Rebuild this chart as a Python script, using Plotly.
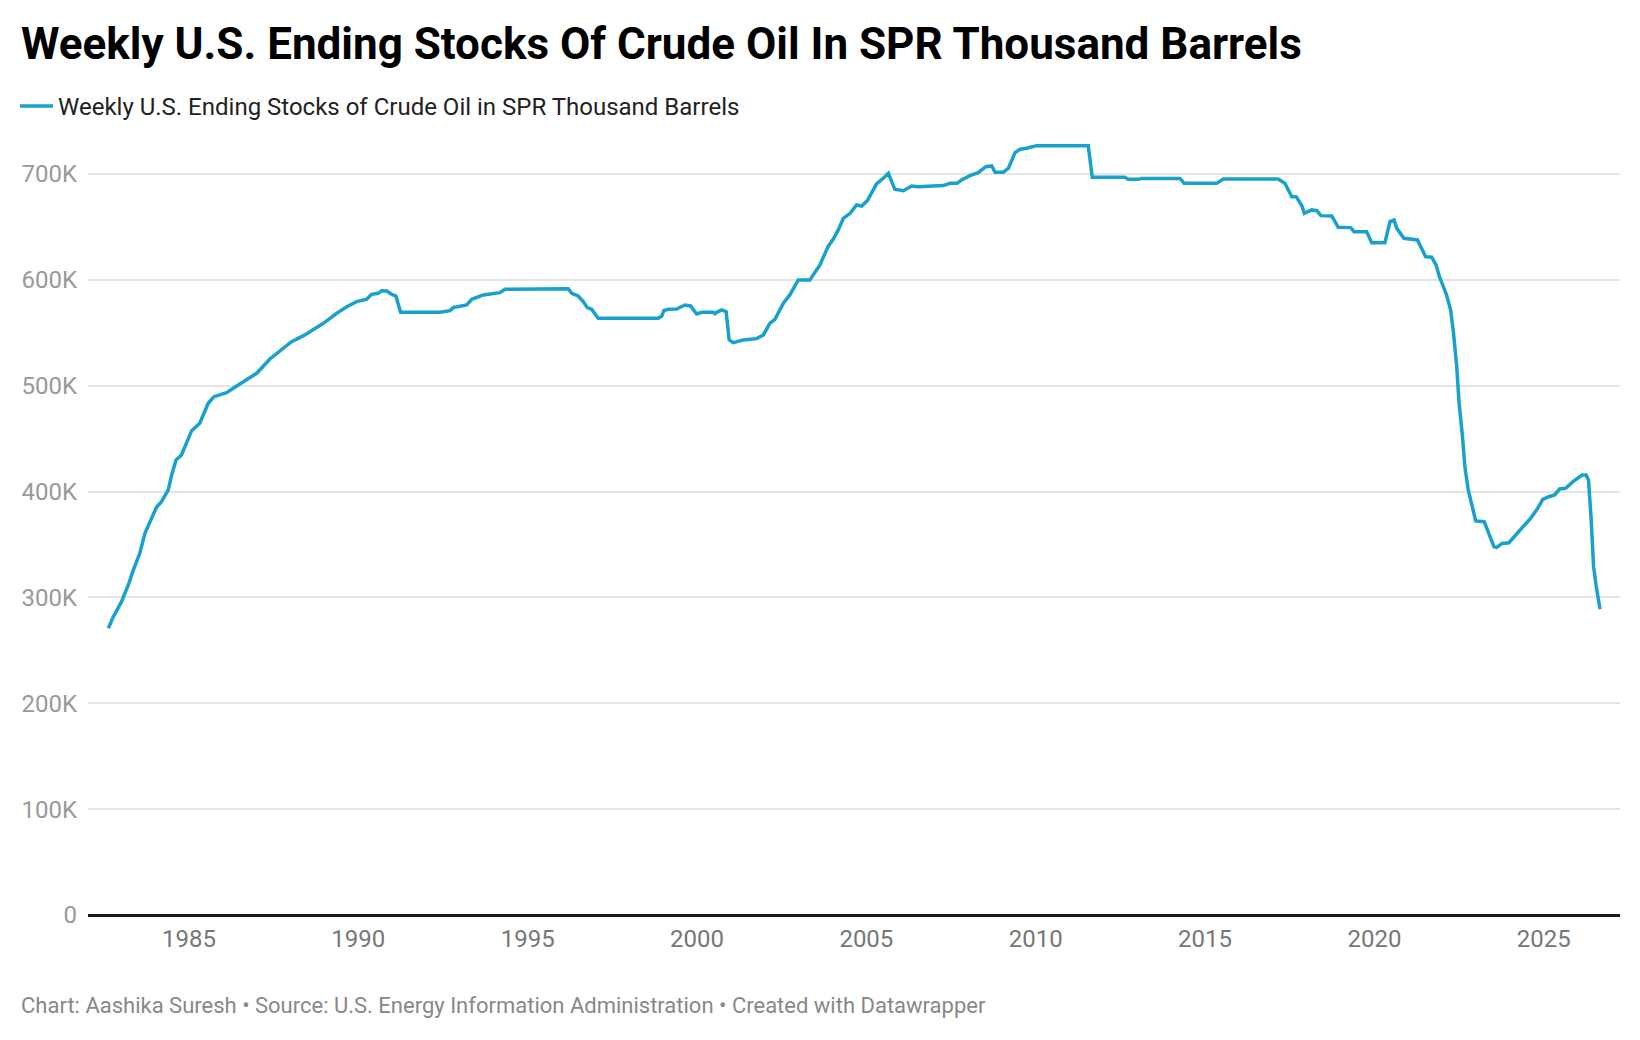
import plotly.graph_objects as go

# Decimal year of each reading
years = [
    1982.62, 1982.77, 1983.01, 1983.21, 1983.36, 1983.55, 1983.70, 1983.83, 1984.05, 1984.19,
    1984.39, 1984.49, 1984.62, 1984.78, 1984.93, 1985.08, 1985.32, 1985.57, 1985.74, 1986.11,
    1986.41, 1986.70, 1987.00, 1987.39, 1987.69, 1988.03, 1988.37, 1988.67, 1988.97, 1989.36,
    1989.66, 1989.95, 1990.25, 1990.39, 1990.59, 1990.69, 1990.84, 1990.98, 1991.11, 1991.25,
    1992.41, 1992.71, 1992.80, 1993.20, 1993.35, 1993.69, 1994.18, 1994.33, 1996.20, 1996.30,
    1996.49, 1996.64, 1996.76, 1996.89, 1997.08, 1998.86, 1998.96, 1999.02, 1999.15, 1999.40,
    1999.64, 1999.81, 1999.99, 2000.14, 2000.48, 2000.53, 2000.58, 2000.73, 2000.86, 2000.95,
    2001.07, 2001.37, 2001.76, 2001.96, 2002.15, 2002.30, 2002.55, 2002.74, 2002.89, 2002.99,
    2003.33, 2003.48, 2003.63, 2003.78, 2003.88, 2004.02, 2004.17, 2004.32, 2004.52, 2004.71,
    2004.86, 2005.03, 2005.16, 2005.30, 2005.50, 2005.65, 2005.84, 2006.09, 2006.34, 2006.53,
    2007.27, 2007.47, 2007.68, 2007.81, 2008.06, 2008.30, 2008.53, 2008.70, 2008.80, 2009.04,
    2009.19, 2009.39, 2009.54, 2009.73, 2010.03, 2011.55, 2011.67, 2012.63, 2012.73, 2013.03,
    2013.13, 2014.26, 2014.38, 2015.34, 2015.54, 2017.16, 2017.36, 2017.51, 2017.56, 2017.69,
    2017.86, 2017.93, 2018.15, 2018.30, 2018.42, 2018.74, 2018.93, 2019.30, 2019.40, 2019.77,
    2019.92, 2020.31, 2020.46, 2020.58, 2020.66, 2020.87, 2021.27, 2021.39, 2021.51, 2021.69,
    2021.82, 2021.92, 2022.03, 2022.13, 2022.25, 2022.33, 2022.43, 2022.50, 2022.60, 2022.67,
    2022.77, 2022.87, 2022.99, 2023.24, 2023.36, 2023.53, 2023.61, 2023.77, 2023.97, 2024.21,
    2024.61, 2024.80, 2024.97, 2025.15, 2025.32, 2025.47, 2025.64, 2025.89, 2026.13, 2026.25,
    2026.32, 2026.40, 2026.47, 2026.55, 2026.66,
]

# Ending stocks, thousand barrels
stocks = [
    270800, 281800, 296000, 311700, 326000, 341700, 360600, 370000, 385700, 390400,
    401500, 415600, 429800, 434500, 447100, 457500, 464500, 483400, 489600, 493400,
    499700, 506000, 511700, 525200, 533100, 541600, 547000, 552600, 558900, 568300,
    574600, 579400, 581600, 586300, 587200, 589700, 589400, 586300, 584700, 569300,
    569300, 570900, 573700, 576200, 581600, 585700, 587900, 591000, 591500, 587300,
    584700, 579400, 573700, 572200, 563700, 563700, 565800, 570900, 572200, 572400,
    576200, 575300, 567700, 569300, 569300, 568000, 569300, 571500, 569900, 543200,
    540600, 543200, 544400, 547900, 558900, 562600, 577800, 585700, 595100, 599900,
    599900, 607700, 614000, 625000, 632000, 638300, 647100, 658100, 662800, 670700,
    669700, 674800, 681700, 690500, 695900, 700600, 685500, 684200, 688600, 688000,
    689000, 691100, 691100, 694300, 698400, 701200, 706800, 707500, 701500, 701500,
    705300, 720100, 723300, 724200, 726700, 726700, 696800, 696800, 694900, 694900,
    695800, 695800, 691100, 691100, 695200, 695200, 691100, 682000, 678500, 678500,
    669700, 662800, 666000, 665300, 660600, 660300, 649600, 649300, 645500, 645500,
    635100, 635100, 655000, 656500, 648600, 639200, 637600, 629700, 621900, 621300,
    614000, 603000, 593500, 585700, 571500, 551000, 518000, 483400, 451800, 423500,
    401500, 388900, 372200, 371500, 362100, 347900, 347300, 351000, 351600, 360500,
    374700, 383200, 392600, 395100, 396800, 402400, 403100, 410000, 415600, 415600,
    410900, 373100, 329000, 310100, 288800,
]

x_ticks = [1985, 1990, 1995, 2000, 2005, 2010, 2015, 2020, 2025]
x_labels = ["1985", "1990", "1995", "2000", "2005", "2010", "2015", "2020", "2025"]
y_ticks = [0, 100000, 200000, 300000, 400000, 500000, 600000, 700000]
y_labels = ["0", "100K", "200K", "300K", "400K", "500K", "600K", "700K"]

series_name = "Weekly U.S. Ending Stocks of Crude Oil in SPR Thousand Barrels"
title_text = "Weekly U.S. Ending Stocks Of Crude Oil In SPR Thousand Barrels"
footer_text = "Chart: Aashika Suresh • Source: U.S. Energy Information Administration • Created with Datawrapper"

# The page body has an 8px margin, so the figure is drawn 8px smaller
W, H = 1632, 1032
L, R, T, B = 80, 20, 113, 125
plot_h = H - T - B

fig = go.Figure()
fig.add_trace(go.Scatter(
    x=years, y=stocks, mode="lines", name=series_name,
    line=dict(color="#18a1cd", width=3.5, shape="linear"),
    hoverinfo="skip",
))

fig.update_layout(
    width=W, height=H,
    margin=dict(l=L, r=R, t=T, b=B, autoexpand=False),
    paper_bgcolor="white", plot_bgcolor="white",
    font=dict(family="Roboto", color="#333333"),
    title=dict(
        text="<b>" + title_text + "</b>",
        font=dict(family="Roboto", size=44, color="#000000"),
        xref="container", x=13 / W, xanchor="left",
        yref="container", y=1 - 35.7 / H, yanchor="middle",
    ),
    showlegend=True,
    legend=dict(
        orientation="h",
        xref="container", x=7 / W, xanchor="left",
        yref="container", y=1 - 98.4 / H, yanchor="middle",
        font=dict(family="Roboto", size=24, color="#222222"),
        bgcolor="rgba(0,0,0,0)", borderwidth=0,
        itemwidth=33,
    ),
    xaxis=dict(
        range=[1982.02, 2027.25],
        tickmode="array", tickvals=x_ticks, ticktext=x_labels,
        showgrid=False, zeroline=False, showline=False, ticks="",
        tickfont=dict(family="Roboto", size=24, color="#777777"),
        ticklabelstandoff=7,
        fixedrange=True,
    ),
    yaxis=dict(
        range=[0, 750000],
        tickmode="array", tickvals=y_ticks, ticktext=y_labels,
        showgrid=True, gridcolor="#e5e5e5", gridwidth=2,
        zeroline=True, zerolinecolor="#1a1a1a", zerolinewidth=3,
        showline=False, ticks="",
        tickfont=dict(family="Roboto", size=24, color="#999999"),
        ticklabelstandoff=10,
        fixedrange=True,
    ),
    annotations=[
        dict(
            text=footer_text, xref="paper", yref="paper",
            x=(11 - L) / (W - L - R), y=-(998 - (H - B)) / plot_h,
            xanchor="left", yanchor="middle", showarrow=False,
            font=dict(family="Roboto", size=22, color="#888888"),
        )
    ],
    hovermode=False,
)

fig.write_html("out.html", config={"displayModeBar": False})
